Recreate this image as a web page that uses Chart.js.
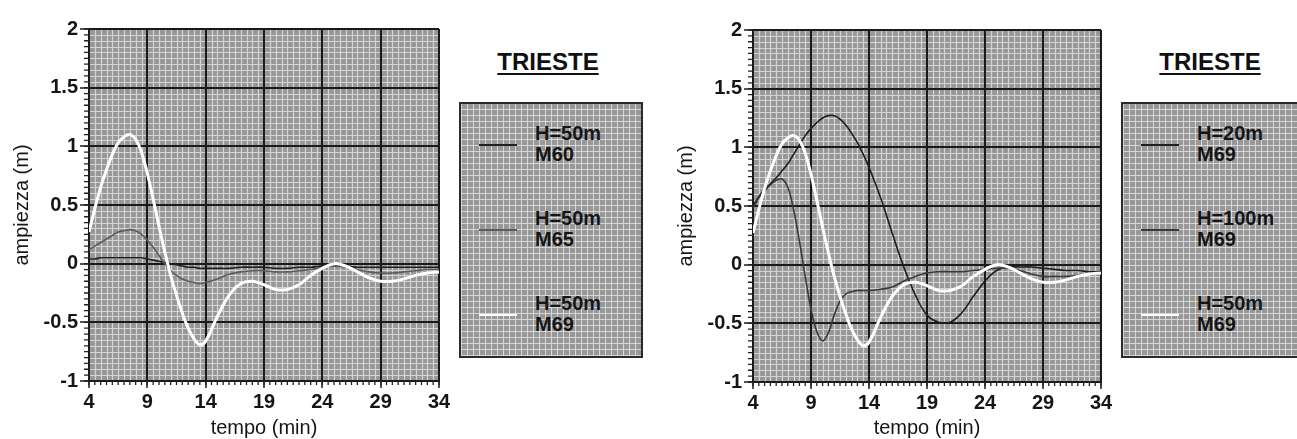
<!DOCTYPE html>
<html><head><meta charset="utf-8">
<script src="https://cdn.jsdelivr.net/npm/chart.js@4/dist/chart.umd.min.js"></script>
<style>
html,body{margin:0;padding:0;background:#fff;width:1297px;height:439px;overflow:hidden;font-family:"Liberation Sans",Arial,sans-serif;}
canvas{position:absolute;top:0;}
.ttl{position:absolute;font-weight:bold;font-size:24px;line-height:26px;text-decoration:underline;text-decoration-thickness:2px;text-underline-offset:3px;transform:translateX(-50%);color:#111;white-space:nowrap;}
.legbox{position:absolute;border:2px solid #2a2a2a;box-sizing:border-box;background-color:#989898;
 background-image:repeating-linear-gradient(90deg,rgba(228,228,228,.8) 0 1px,transparent 1px 6px),repeating-linear-gradient(0deg,rgba(228,228,228,.8) 0 1px,transparent 1px 6px);}
.sw{position:absolute;left:18px;width:38px;}
.lt{position:absolute;left:74px;font-size:20px;line-height:21px;color:#151515;white-space:nowrap;font-weight:bold;}
</style></head>
<body>
<canvas id="c1"></canvas>
<canvas id="c2"></canvas>
<div class="ttl" style="left:548px;top:49px">TRIESTE</div>
<div class="ttl" style="left:1210px;top:49px">TRIESTE</div>
<div class="legbox" id="leg1" style="left:459px;top:102px;width:184px;height:256px"></div>
<div class="legbox" id="leg2" style="left:1121px;top:102px;width:182px;height:256px"></div>
<script>
// ---- data ----
const tempo = [4,4.5,5,5.5,6,6.5,7,7.5,8,8.5,9,9.5,10,10.5,11,11.5,12,12.5,13,13.5,14,
               15,16,17,18,19,20,21,22,23,24,25,26,27,28,29,30,31,32,33,34];
const tempoTicks = [4,9,14,19,24,29,34];
const ampTicks = [-1,-0.5,0,0.5,1,1.5,2];

// left panel
const h50_m60 = [0.04,0.04,0.05,0.05,0.05,0.05,0.05,0.05,0.05,0.05,0.04,0.03,0.02,0.01,0.0,-0.01,-0.02,-0.03,-0.03,-0.04,-0.04,
                 -0.04,-0.04,-0.03,-0.03,-0.03,-0.04,-0.04,-0.03,-0.03,-0.02,-0.02,-0.02,-0.03,-0.03,-0.03,-0.03,-0.03,-0.03,-0.03,-0.03];
const h50_m65 = [0.12,0.15,0.18,0.21,0.24,0.27,0.28,0.29,0.28,0.25,0.2,0.14,0.07,0.0,-0.06,-0.1,-0.13,-0.15,-0.16,-0.17,-0.16,
                 -0.13,-0.09,-0.07,-0.06,-0.06,-0.07,-0.07,-0.06,-0.05,-0.03,-0.02,-0.03,-0.05,-0.07,-0.08,-0.08,-0.07,-0.06,-0.05,-0.05];
const h50_m69 = [0.27,0.47,0.65,0.8,0.93,1.03,1.08,1.1,1.06,0.95,0.77,0.55,0.32,0.1,-0.1,-0.27,-0.42,-0.55,-0.64,-0.69,-0.66,
                 -0.45,-0.27,-0.17,-0.15,-0.18,-0.22,-0.22,-0.18,-0.1,-0.04,0.0,-0.02,-0.07,-0.12,-0.15,-0.15,-0.13,-0.1,-0.08,-0.07];
// right panel
const h20_m69 = [0.5,0.58,0.64,0.69,0.74,0.8,0.86,0.94,1.02,1.1,1.16,1.21,1.25,1.27,1.27,1.24,1.19,1.12,1.04,0.94,0.83,
                 0.57,0.27,-0.02,-0.26,-0.43,-0.49,-0.49,-0.41,-0.27,-0.14,-0.05,-0.02,-0.02,-0.02,-0.03,-0.04,-0.05,-0.05,-0.06,-0.06];
const h100_m69 = [0.48,0.57,0.63,0.68,0.72,0.73,0.66,0.47,0.2,-0.1,-0.38,-0.57,-0.65,-0.58,-0.43,-0.31,-0.25,-0.23,-0.22,-0.22,-0.22,
                  -0.21,-0.19,-0.14,-0.1,-0.07,-0.06,-0.06,-0.06,-0.05,-0.04,-0.03,-0.03,-0.05,-0.08,-0.1,-0.1,-0.1,-0.09,-0.08,-0.08];

const labels1 = ['H=50m M60','H=50m M65','H=50m M69'];
const labels2 = ['H=20m M69','H=100m M69','H=50m M69'];

// ---- helpers ----
const pts = (vals) => tempo.map((t,i)=>({x:t,y:vals[i]}));
const FONT = '"Liberation Sans", Arial, sans-serif';

const paper = {
  id:'paper',
  beforeDraw(chart){
    const {ctx, chartArea:a, scales:{x,y}} = chart;
    ctx.save();
    ctx.fillStyle = '#979797';
    ctx.fillRect(a.left,a.top,a.right-a.left,a.bottom-a.top);
    ctx.strokeStyle = 'rgba(228,228,228,0.8)';
    ctx.lineWidth = 1.2;
    ctx.beginPath();
    for (let v = x.min; v <= x.max + 1e-9; v += 0.5) {
      const p = Math.round(x.getPixelForValue(v)) + 0.5;
      ctx.moveTo(p,a.top); ctx.lineTo(p,a.bottom);
    }
    for (let v = y.min; v <= y.max + 1e-9; v += 0.05) {
      const p = Math.round(y.getPixelForValue(v)) + 0.5;
      ctx.moveTo(a.left,p); ctx.lineTo(a.right,p);
    }
    ctx.stroke();
    ctx.restore();
  },
  afterDraw(chart){
    const {ctx, chartArea:a, scales:{x,y}} = chart;
    ctx.save();
    ctx.strokeStyle = '#222'; ctx.lineWidth = 1.3;
    ctx.beginPath();
    for (let v = y.min; v <= y.max + 1e-9; v += 0.05) {
      const p = y.getPixelForValue(v);
      ctx.moveTo(a.left-5,p); ctx.lineTo(a.left,p);
    }
    for (let v = x.min; v <= x.max + 1e-9; v += 0.5) {
      const p = x.getPixelForValue(v);
      ctx.moveTo(p,a.bottom); ctx.lineTo(p,a.bottom+4);
    }
    ctx.stroke();
    ctx.restore();
  }
};

function makeChart(id, left, width, top, xh, sets){
  const cv = document.getElementById(id);
  cv.style.left = left+'px';
  cv.style.width = width+'px'; cv.style.height = '439px';
  cv.width = width; cv.height = 439;
  return new Chart(cv, {
    type:'line',
    data:{datasets:sets},
    options:{
      responsive:false, animation:false, devicePixelRatio:1,
      layout:{padding:{top:top,right:16,bottom:0,left:0}},
      plugins:{legend:{display:false},tooltip:{enabled:false}},
      elements:{point:{radius:0},line:{tension:0.4}},
      scales:{
        x:{type:'linear',min:4,max:34,
           afterBuildTicks:(s)=>{s.ticks = tempoTicks.map(v=>({value:v}));},
           afterFit:(s)=>{s.height = xh;},
           ticks:{color:'#151515',font:{family:FONT,size:20,weight:'bold'},padding:2,maxRotation:0,autoSkip:false,callback:(v)=>String(v)},
           grid:{color:'#1a1a1a',lineWidth:2,tickLength:7,tickColor:'#1a1a1a',tickWidth:1.5},
           border:{color:'#1a1a1a',width:2},
           title:{display:true,text:'tempo (min)',color:'#151515',font:{family:FONT,size:20,lineHeight:1},padding:{top:0,bottom:1}}},
        y:{type:'linear',min:-1,max:2,
           afterBuildTicks:(s)=>{s.ticks = ampTicks.map(v=>({value:v}));},
           afterFit:(s)=>{s.width = 89;},
           ticks:{color:'#151515',font:{family:FONT,size:20,weight:'bold'},padding:2,callback:(v)=>String(v)},
           grid:{color:'#1a1a1a',lineWidth:2,tickLength:9,tickColor:'#1a1a1a',tickWidth:1.5},
           border:{color:'#1a1a1a',width:2},
           title:{display:true,text:'ampiezza (m)',color:'#151515',font:{family:FONT,size:20,lineHeight:1.2},padding:{top:10,bottom:0}}}
      }
    },
    plugins:[paper]
  });
}

const c1 = makeChart('c1', 0, 455, 29, 58, [
  {label:labels1[0], data:pts(h50_m60), borderColor:'#1e1e1e', borderWidth:1.6, order:2},
  {label:labels1[1], data:pts(h50_m65), borderColor:'#5c5c5c', borderWidth:1.6, order:1},
  {label:labels1[2], data:pts(h50_m69), borderColor:'#ffffff', borderWidth:3, order:0}
]);
const c2 = makeChart('c2', 664, 453, 30, 57, [
  {label:labels2[0], data:pts(h20_m69), borderColor:'#1e1e1e', borderWidth:1.6, order:2},
  {label:labels2[1], data:pts(h100_m69), borderColor:'#3a3a3a', borderWidth:1.6, order:1},
  {label:labels2[2], data:pts(h50_m69), borderColor:'#ffffff', borderWidth:3, order:0}
]);

function buildLegend(chart, boxId){
  const box = document.getElementById(boxId);
  chart.data.datasets.forEach((ds,i)=>{
    const base = 19 + i*85;
    const sw = document.createElement('div');
    sw.className = 'sw';
    const h = Math.min(2, Math.max(1.5, ds.borderWidth));
    sw.style.top = (base + 21) + 'px';
    sw.style.height = h + 'px';
    sw.style.background = ds.borderColor;
    box.appendChild(sw);
    ds.label.split(' ').forEach((line,j)=>{
      const t = document.createElement('div');
      t.className = 'lt';
      t.style.top = (base + j*21) + 'px';
      t.textContent = line;
      box.appendChild(t);
    });
  });
}
buildLegend(c1,'leg1');
buildLegend(c2,'leg2');
</script>
</body></html>
